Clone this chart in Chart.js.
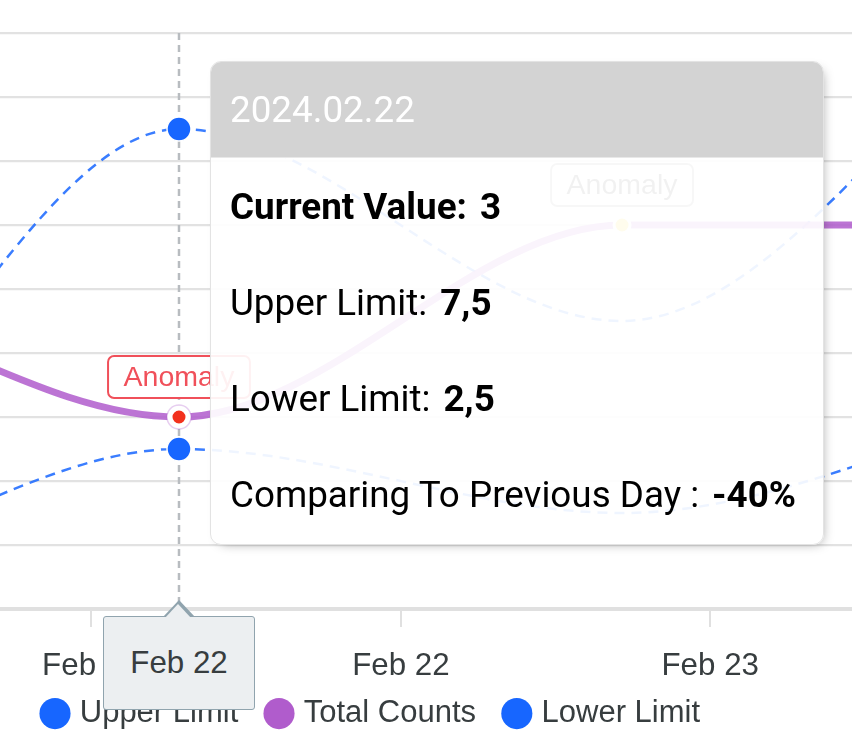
<!DOCTYPE html>
<html>
<head>
<meta charset="utf-8">
<script src="https://cdn.jsdelivr.net/npm/chart.js@4.4.1/dist/chart.umd.min.js"></script>
<style>
html,body{margin:0;padding:0;background:#fff;overflow:hidden;}
#wrap{position:relative;width:852px;height:741px;}
#chart{display:block;}
#tip{position:absolute;display:none;box-sizing:border-box;width:614px;background:rgba(255,255,255,0.92);border:1px solid #e3e3e3;border-radius:11px;box-shadow:4px 4px 12px -6px rgba(0,0,0,.4);font-family:Roboto,"Liberation Sans",sans-serif;color:#000;overflow:hidden;padding-bottom:2px;}
#tip .hd{height:95px;box-sizing:content-box;background:#d3d3d3;color:#fff;font-size:36.8px;display:flex;align-items:center;padding-left:19px;border-bottom:1px solid #e8e8e8;}
#tip .row{height:96px;display:flex;align-items:center;padding-left:19px;font-size:36.8px;white-space:nowrap;}
#tip .row .v{font-weight:700;margin-left:13px;}
#tip .row.cur{font-weight:700;}
#xl{position:absolute;display:none;box-sizing:border-box;width:152px;height:94px;background:#eceff1;border:1px solid #90a4ae;border-radius:3px;font-family:"Liberation Sans",Arial,sans-serif;font-size:31.3px;color:#373d3f;align-items:center;justify-content:center;}
#xl:before,#xl:after{content:"";position:absolute;left:50%;width:0;height:0;border:solid transparent;}
#xl:before{bottom:100%;border-width:0 16px 17px 16px;border-bottom-color:#90a4ae;margin-left:-16px;}
#xl:after{bottom:calc(100% - 1.5px);border-width:0 14.5px 15.5px 14.5px;border-bottom-color:#eceff1;margin-left:-14.5px;}
</style>
</head>
<body>
<div id="wrap">
  <canvas id="chart" width="852" height="741"></canvas>
  <div id="tip"></div>
  <div id="xl"></div>
</div>
<script>
// ---- data ----
const dates = ['2024.02.20', '2024.02.21', '2024.02.22', '2024.02.23', '2024.02.24'];
const totalCounts = [4, 5, 3, 6, 6];
const upperLimit = [5, 1.5, 7.5, 4.5, 10];
const lowerLimit = [2, 0.5, 2.5, 1.5, 3.3];
const anomalyLevel = [null, null, 'critical', 'warning', null];
const seriesNames = ['Upper Limit', 'Total Counts', 'Lower Limit'];
const tickLabels = ['Feb 21', 'Feb 22', 'Feb 23'];
const tickValues = [1.801, 2.501, 3.199];
const viewRange = [1.596, 3.519];
const hoveredDate = '2024.02.22';

// ---- styles ----
const FONT = '"Liberation Sans", Arial, sans-serif';
const BLUE = '#1766ff', BLUE_LINE = 'rgba(23,102,255,0.85)';
const PURPLE = '#b05ccc', PURPLE_LINE = 'rgba(176,92,204,0.85)';
const anomalyStyle = {
  critical: {point: '#f2311d', border: '#f0505a', text: '#f0505a'},
  warning: {point: '#ffd21f', border: '#9e9e9e', text: '#555555'}
};
const months = ['Jan','Feb','Mar','Apr','May','Jun','Jul','Aug','Sep','Oct','Nov','Dec'];
function shortDate(s) { const p = s.split('.'); return months[+p[1] - 1] + ' ' + (+p[2]); }
function fmt(v) { return String(v).replace('.', ','); }

function renderTooltip(context) {
  const chart = context.chart, tooltip = context.tooltip;
  const tip = document.getElementById('tip'), xl = document.getElementById('xl');
  const pts = tooltip.dataPoints || [];
  if (!pts.length) { tip.style.display = 'none'; xl.style.display = 'none'; return; }
  const i = pts[0].dataIndex;
  const prev = totalCounts[i - 1];
  const change = Math.round((totalCounts[i] - prev) / prev * 100);
  tip.innerHTML =
    '<div class="hd">' + dates[i] + '</div>' +
    '<div class="row cur">Current Value:<span class="v">' + fmt(totalCounts[i]) + '</span></div>' +
    '<div class="row">' + seriesNames[0] + ':<span class="v">' + fmt(upperLimit[i]) + '</span></div>' +
    '<div class="row">' + seriesNames[2] + ':<span class="v">' + fmt(lowerLimit[i]) + '</span></div>' +
    '<div class="row">Comparing To Previous Day :<span class="v">' + change + '%</span></div>';
  const px = chart.scales.x.getPixelForValue(i);
  tip.style.left = (px + 31) + 'px';
  tip.style.top = (chart.chartArea.top + 28) + 'px';
  tip.style.display = 'block';
  xl.textContent = shortDate(dates[i]);
  xl.style.left = (px - 76) + 'px';
  xl.style.top = (chart.chartArea.bottom + 7) + 'px';
  xl.style.display = 'flex';
}

const overlay = {
  id: 'overlay',
  beforeDatasetsDraw(chart) {
    const act = chart.getActiveElements();
    if (!act.length) return;
    const x = act[0].element.x, a = chart.chartArea, c = chart.ctx;
    c.save();
    c.strokeStyle = '#b8bcc0'; c.lineWidth = 2.5; c.setLineDash([7, 5]);
    c.beginPath(); c.moveTo(x, a.top); c.lineTo(x, a.bottom); c.stroke();
    c.restore();
  },
  afterDatasetsDraw(chart) {
    const meta = chart.getDatasetMeta(3), c = chart.ctx;
    c.save();
    c.font = '28.5px ' + FONT;
    meta.data.forEach((el, i) => {
      const lvl = anomalyLevel[i];
      if (!lvl) return;
      const st = anomalyStyle[lvl];
      const w = c.measureText('Anomaly').width + 31, h = 42;
      const cx = el.x, cy = el.y - 40;
      c.beginPath();
      c.roundRect(cx - w / 2, cy - h / 2, w, h, 6);
      c.fillStyle = '#fff'; c.fill();
      c.lineWidth = 2; c.strokeStyle = st.border; c.stroke();
      c.fillStyle = st.text; c.textAlign = 'center'; c.textBaseline = 'middle';
      c.fillText('Anomaly', cx, cy + 1);
    });
    c.restore();
  },
  afterLayout(chart) {
    const lg = chart.legend;
    if (lg) { lg.left += 14.25; lg.right += 14.25; lg.top -= 22.4; }
  }
};

const pts = arr => dates.map((d, i) => ({x: i, y: arr[i]}));

const chart = new Chart(document.getElementById('chart'), {
  type: 'line',
  data: {
    datasets: [
      {label: seriesNames[0], data: pts(upperLimit), borderColor: BLUE_LINE, borderWidth: 2.5, borderDash: [10, 7],
       pointRadius: 0, pointHoverRadius: 12, pointHoverBorderWidth: 1.5, pointHoverBackgroundColor: BLUE, pointHoverBorderColor: '#fff', order: 1},
      {label: seriesNames[1], data: pts(totalCounts), borderColor: PURPLE_LINE, borderWidth: 7,
       pointRadius: 0, pointHoverRadius: 12, pointHoverBorderWidth: 1.5, pointHoverBackgroundColor: '#fff', pointHoverBorderColor: 'rgba(176,92,204,0.3)', order: 0},
      {label: seriesNames[2], data: pts(lowerLimit), borderColor: BLUE_LINE, borderWidth: 2.5, borderDash: [10, 7],
       pointRadius: 0, pointHoverRadius: 12, pointHoverBorderWidth: 1.5, pointHoverBackgroundColor: BLUE, pointHoverBorderColor: '#fff', order: 1},
      {label: 'Anomaly', data: dates.map((d, i) => ({x: i, y: anomalyLevel[i] ? totalCounts[i] : null})), showLine: false,
       pointRadius: anomalyLevel.map(l => l ? 8 : 0), pointHoverRadius: anomalyLevel.map(l => l ? 8 : 0),
       pointBackgroundColor: anomalyLevel.map(l => l ? anomalyStyle[l].point : 'transparent'),
       pointBorderColor: '#fff', pointBorderWidth: 3, order: -1}
    ]
  },
  options: {
    responsive: false,
    animation: false,
    events: [],
    layout: {autoPadding: false, padding: {top: 33, bottom: 0, left: 0, right: 0}},
    elements: {line: {cubicInterpolationMode: 'monotone', capBezierPoints: false, fill: false}},
    scales: {
      x: {
        type: 'linear', bounds: 'data',
        afterDataLimits: s => { s.min = viewRange[0]; s.max = viewRange[1]; },
        afterBuildTicks: s => { s.ticks = tickValues.map(v => ({value: v})); },
        afterFit: s => { s.height = 80; s.paddingLeft = 0; s.paddingRight = 0; },
        grid: {drawOnChartArea: false, drawTicks: true, tickLength: 18, color: '#e0e0e0', lineWidth: 2},
        border: {display: true, color: '#e0e0e0', width: 4},
        ticks: {autoSkip: false, maxRotation: 0, padding: 20.3, color: '#373d3f', font: {family: FONT, size: 31.3},
                callback: (v, i) => tickLabels[i]}
      },
      y: {
        min: 0, max: 9,
        afterFit: s => { s.width = 0; s.paddingTop = 0; s.paddingBottom = 0; },
        ticks: {display: false, stepSize: 1},
        border: {display: false},
        grid: {color: '#e2e2e2', lineWidth: 2.3, drawTicks: false}
      }
    },
    plugins: {
      legend: {
        position: 'bottom', align: 'start', maxHeight: 52,
        labels: {
          usePointStyle: true, boxWidth: 18.5, boxHeight: 22, padding: 31.5, color: '#373d3f',
          font: {family: FONT, size: 31},
          generateLabels: ch => seriesNames.map((n, i) => ({
            text: n, fillStyle: i === 1 ? PURPLE : BLUE, strokeStyle: 'rgba(0,0,0,0)', lineWidth: 0,
            pointStyle: 'circle', hidden: false, datasetIndex: i, fontColor: '#373d3f'
          }))
        }
      },
      tooltip: {enabled: false, mode: 'index', intersect: false, external: renderTooltip, filter: it => it.datasetIndex < 3}
    }
  },
  plugins: [overlay]
});

const idx = dates.indexOf(hoveredDate);
const act = [0, 1, 2].map(d => ({datasetIndex: d, index: idx}));
chart.setActiveElements(act);
chart.update();
const el = chart.getDatasetMeta(1).data[idx];
chart.tooltip.setActiveElements(act, {x: el.x, y: el.y});
</script>
</body>
</html>
